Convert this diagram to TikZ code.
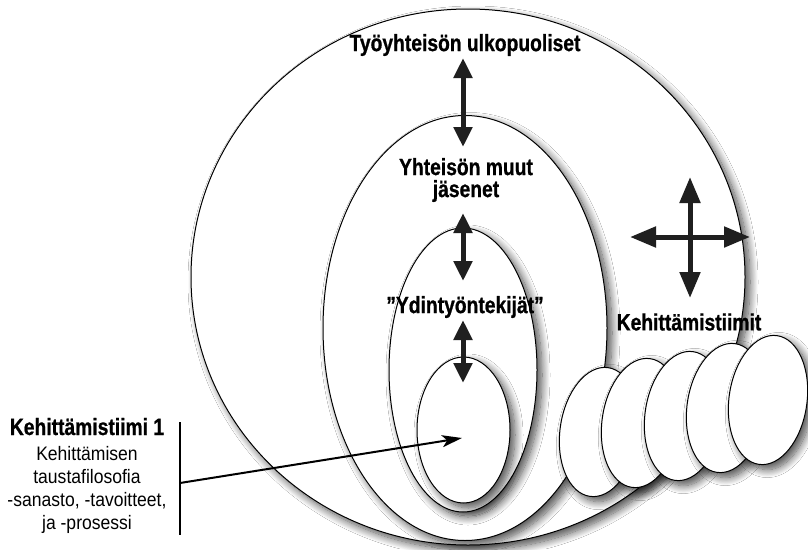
\documentclass[tikz,border=0pt]{standalone}
\usepackage{fontspec}
\setmainfont[FakeStretch=0.9]{Liberation Sans}
\newfontfamily\hd[FakeStretch=0.82, BoldFeatures={FakeBold=0.8}]{Liberation Sans}
\usetikzlibrary{arrows.meta,shapes.geometric,shadows.blur}
\begin{document}
\begin{tikzpicture}[x=1pt,y=-1pt,
  ring/.style={ellipse, draw=black, line width=1pt, fill=white, inner sep=0pt,
    blur shadow={shadow xshift=5pt, shadow yshift=-5pt, shadow blur radius=8pt, shadow blur steps=14, shadow opacity=70}},
  dbl/.style={{Triangle[width=18pt,length=20pt]}-{Triangle[width=18pt,length=20pt]}, line width=5pt, draw=black!88},
  bigdbl/.style={{Triangle[width=20pt,length=26pt]}-{Triangle[width=20pt,length=26pt]}, line width=5pt, draw=black!88},
  lbl/.style={font=\hd\fontsize{23.5}{22}\selectfont\bfseries, inner sep=0pt, align=center},
  side/.style={font=\fontsize{19.5}{23}\selectfont, inner sep=0pt, anchor=base},
  pointer/.style={-{Stealth[length=20pt,width=12pt,inset=5pt]}, line width=2pt, draw=black}
]
\fill[white] (0,0) rectangle (808,549);
\useasboundingbox (0,0) rectangle (808,549);

% nested ellipses
\node[ring, minimum width=554pt, minimum height=536pt] (outer) at (468,277) {};
\node[ring, minimum width=284pt, minimum height=425pt] (second) at (465,328) {};
\node[ring, minimum width=148pt, minimum height=284pt] (third) at (463,370) {};
\node[ring, minimum width=93pt, minimum height=146pt] (inner) at (463.5,430) {};

% development teams
\node[ring, minimum width=78pt, minimum height=130pt, rotate=-8] (e1) at (599,432) {};
\node[ring, minimum width=78pt, minimum height=130pt, rotate=-8] (e2) at (641,423) {};
\node[ring, minimum width=78pt, minimum height=130pt, rotate=-8] (e3) at (684,416) {};
\node[ring, minimum width=78pt, minimum height=130pt, rotate=-8] (e4) at (726,408) {};
\node[ring, minimum width=78pt, minimum height=130pt, rotate=-8] (e5) at (768,400) {};

% labels
\node[lbl] (t1) at (465,45) {Työyhteisön ulkopuoliset};
\node[lbl] (t2) at (466,180) {Yhteisön muut\\jäsenet};
\node[lbl] (t3) at (465,307) {”Ydintyöntekijät”};
\node[lbl] (t4) at (689,322) {Kehittämistiimit};

% vertical arrows
\coordinate (a1t) at (463,58);  \coordinate (a1b) at (463,147);
\coordinate (a2t) at (463,213); \coordinate (a2b) at (463,281);
\coordinate (a3t) at (463,320); \coordinate (a3b) at (463,383);
\draw[dbl] (a1t) -- (a1b);
\draw[dbl] (a2t) -- (a2b);
\draw[dbl] (a3t) -- (a3b);

% cross arrow
\coordinate (cl) at (630,237); \coordinate (cr) at (750,237);
\coordinate (ct) at (690,177); \coordinate (cb) at (690,298);
\draw[bigdbl] (cl) -- (cr);
\draw[bigdbl] (ct) -- (cb);

% side text
\node[side, font=\hd\fontsize{23.5}{23}\selectfont\bfseries] (l1) at (87,435) {Kehittämistiimi 1};
\node[side] (l2) at (87,460) {Kehittämisen};
\node[side] (l3) at (87,483) {taustafilosofia};
\node[side] (l4) at (87,506) {-sanasto, -tavoitteet,};
\node[side] (l5) at (87,529) {ja -prosessi};

\coordinate (barT) at (180,422);
\coordinate (barB) at (180,535);
\coordinate (barM) at (180,483);
\coordinate (aim) at (462,438);
\draw[line width=1.8pt] (barT) -- (barB);
\draw[pointer] (barM) -- (aim);
\end{tikzpicture}
\end{document}
